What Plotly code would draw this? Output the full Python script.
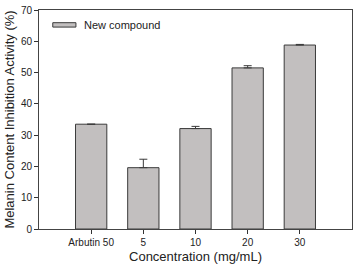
import plotly.graph_objects as go

categories = ["Arbutin 50", "5", "10", "20", "30"]
values = [33.5, 19.6, 32.1, 51.5, 58.8]
errors = [None, 2.7, 0.7, 0.7, 0.2]
y_ticks = [0, 10, 20, 30, 40, 50, 60, 70]
legend_label = "New compound"

xpos = list(range(len(categories)))
bar_fill = "#c2bfbf"
bar_line = "#3a3a3a"

fig = go.Figure()
fig.add_trace(go.Bar(
    x=xpos, y=values, width=0.6, name=legend_label,
    marker=dict(color=bar_fill, line=dict(color=bar_line, width=1)),
    error_y=dict(type="data", array=errors, symmetric=False, arrayminus=[0]*5,
                 color=bar_line, thickness=1, width=4),
    showlegend=False,
))

font = "Liberation Sans, Arial, sans-serif"

# custom legend (wide rectangle swatch like the reference)
fig.add_shape(type="rect", xref="paper", yref="paper",
              x0=0.044, x1=0.118, y0=0.922, y1=0.942,
              fillcolor=bar_fill, line=dict(color=bar_line, width=1))
fig.add_annotation(xref="paper", yref="paper", x=0.136, y=0.932,
                   xanchor="left", yanchor="middle", text=legend_label,
                   showarrow=False, font=dict(size=11, family=font, color="#222"))

fig.update_layout(
    width=357, height=265,
    margin=dict(l=39, r=4, t=6, b=32),
    plot_bgcolor="white", paper_bgcolor="white",
    font=dict(family=font, size=10, color="#222"),
    showlegend=False,
    xaxis=dict(
        range=[-1, 5], tickmode="array", tickvals=xpos, ticktext=categories,
        ticks="outside", ticklen=4, tickcolor="#333", showgrid=False,
        showline=True, linecolor="#444", linewidth=1, mirror=True,
        zeroline=False, tickfont=dict(size=10),
        title=dict(text="Concentration (mg/mL)", font=dict(size=13), standoff=4),
    ),
    yaxis=dict(
        range=[0, 70], tickvals=y_ticks, ticks="outside", ticklen=4,
        tickcolor="#333", showgrid=False, showline=True, linecolor="#444",
        linewidth=1, mirror=True, zeroline=False, tickfont=dict(size=10),
        title=dict(text="Melanin Content Inhibition Activity (%)", font=dict(size=13), standoff=3),
    ),
)

fig.write_html("out.html")
